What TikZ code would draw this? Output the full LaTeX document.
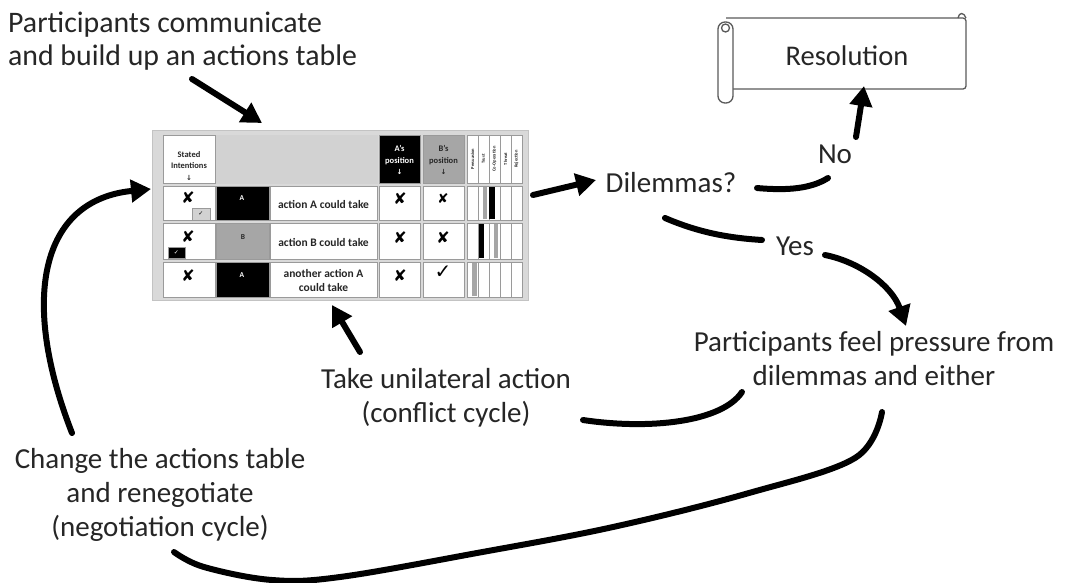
\documentclass[tikz,border=0pt]{standalone}
\usepackage{fontspec}
\setmainfont{Carlito}
\newfontfamily\symfont{DejaVu Sans}
\usetikzlibrary{arrows.meta}
\definecolor{ink}{HTML}{262626}
\definecolor{framegray}{HTML}{D9D9D9}
\definecolor{headgray}{HTML}{D2D2D2}
\definecolor{bgray}{HTML}{A6A6A6}
\definecolor{linegray}{HTML}{9A9A9A}
\definecolor{scrollgray}{HTML}{5A5A5A}
\tikzset{
  lbl/.style={inner sep=0pt, text=ink, font=\fontsize{29}{34}\selectfont, align=center},
  conn/.style={draw=black, line width=6pt, line cap=round},
  arr/.style={conn, -{Triangle[length=20pt,width=22pt]}},
  cellb/.style={draw=linegray, line width=0.8pt},
  tiny/.style={inner sep=0pt, font=\fontsize{8.5}{11.5}\selectfont\bfseries, align=center},
  acttxt/.style={inner sep=0pt, text=ink, font=\fontsize{11.5}{14}\selectfont\bfseries, align=center},
  vlab/.style={inner sep=0pt, rotate=90, text=ink, font=\fontsize{4.5}{5}\selectfont\bfseries},
  symb/.style={inner sep=0pt, text=black, font=\symfont\fontsize{16}{16}\selectfont},
}
\begin{document}
\begin{tikzpicture}[x=1pt,y=-1pt]
\useasboundingbox[fill=white] (0,0) rectangle (1066,582);

% ---------------- texts (base = baseline of last line) ----------------
\node[lbl, align=left, anchor=base west, font=\fontsize{29.8}{33}\selectfont] (build) at (8,65) {Participants communicate\\and build up an actions table};
\node[lbl, anchor=base] (dil) at (671,192) {Dilemmas?};
\node[lbl, anchor=base] (no) at (835,163) {No};
\node[lbl, anchor=base] (yes) at (795,255) {Yes};
\node[lbl, anchor=base] (press) at (874,385) {Participants feel pressure from\\dilemmas and either};
\node[lbl, anchor=base] (uni) at (446,422) {Take unilateral action\\(conflict cycle)};
\node[lbl, anchor=base] (change) at (160,536) {Change the actions table\\and renegotiate\\(negotiation cycle)};

% ---------------- resolution scroll ----------------
\begin{scope}[draw=scrollgray, line width=1.3pt]
  \draw[fill=white, rounded corners=3pt] (726,18) -- (966,18) -- (966,89) -- (730,89);
  \draw[fill=white, rounded corners=7pt] (718,22) rectangle (733,103);
  \draw (725.5,28) circle (4pt);
  \draw (958,18) .. controls (959,12) and (964,12) .. (966,18);
\end{scope}
\node[lbl, font=\fontsize{28.5}{34}\selectfont, anchor=base] (res) at (847,65) {Resolution};

% ---------------- actions table ----------------
\node[fill=framegray, draw=framegray!90!black, minimum width=376pt, minimum height=170pt, inner sep=0pt] (table) at (340,215) {};
% header
\draw[cellb, fill=white] (163,135) rectangle (215,183);
\draw[draw=headgray, fill=headgray] (216,135) rectangle (377,183);
\draw[cellb, fill=black] (379,135) rectangle (420,183);
\draw[cellb, fill=bgray] (423,135) rectangle (464,183);
\foreach \x in {467,478,489,500,511}{
  \draw[cellb, fill=white] (\x,135) rectangle (\x+11,183);
  \draw[cellb, fill=white] (\x,186) rectangle (\x+11,220);
  \draw[cellb, fill=white] (\x,223) rectangle (\x+11,259);
  \draw[cellb, fill=white] (\x,262) rectangle (\x+11,297);
}
\node[tiny, text=ink] (si) at (189,166) {Stated\\Intentions\\{\symfont\fontsize{7}{8}\selectfont ↓}};
\node[tiny, text=white] (ap) at (399.5,160) {A's\\position\\{\symfont\fontsize{7}{8}\selectfont ↓}};
\node[tiny, text=ink] (bp) at (443.5,160) {B's\\position\\{\symfont\fontsize{7}{8}\selectfont ↓}};
\node[vlab] (v1) at (472.5,159) {Persuasion};
\node[vlab] (v2) at (483.5,159) {Trust};
\node[vlab] (v3) at (494.5,159) {Co-Operation};
\node[vlab] (v4) at (505.5,159) {Threat};
\node[vlab] (v5) at (516.5,159) {Rejection};
% rows
\foreach \ya/\yb in {186/220,223/259,262/297}{
  \draw[cellb, fill=white] (163,\ya) rectangle (215,\yb);
  \draw[cellb, fill=white] (270,\ya) rectangle (377,\yb);
  \draw[cellb, fill=white] (379,\ya) rectangle (420,\yb);
  \draw[cellb, fill=white] (423,\ya) rectangle (464,\yb);
}
\draw[cellb, fill=black] (216,186) rectangle (269,220);
\draw[cellb, fill=bgray] (216,223) rectangle (269,259);
\draw[cellb, fill=black] (216,262) rectangle (269,297);
\node[tiny, text=white, font=\fontsize{7.5}{8}\selectfont\bfseries] (ra) at (242,198) {A};
\node[tiny, text=ink, font=\fontsize{7.5}{8}\selectfont\bfseries] (rb) at (243,237) {B};
\node[tiny, text=white, font=\fontsize{7.5}{8}\selectfont\bfseries] (rc) at (242,275) {A};
\node[acttxt] (t1) at (323.5,204) {action A could take};
\node[acttxt] (t2) at (323.5,242) {action B could take};
\node[acttxt] (t3) at (323.5,280) {another action A\\could take};
% marks
\node[symb] (x11) at (188,198) {✘};
\node[symb] (x14) at (400,199) {✘};
\node[symb, font=\symfont\fontsize{13.5}{13.5}\selectfont] (x15) at (443,199) {✘};
\node[symb] (x21) at (188,237) {✘};
\node[symb] (x24) at (400,238) {✘};
\node[symb] (x25) at (443,238) {✘};
\node[symb] (x31) at (188,276) {✘};
\node[symb] (x34) at (400,276) {✘};
\node[symb, font=\symfont\bfseries\fontsize{20}{20}\selectfont] (c35) at (443,272) {✓};
% small check boxes
\draw[draw=linegray, fill=headgray, line width=0.8pt] (192,208) rectangle (210,220);
\node[symb, font=\symfont\fontsize{6}{6}\selectfont] (cb1) at (201,214) {✓};
\draw[draw=linegray, fill=black, line width=0.8pt] (168,247) rectangle (185,258);
\node[symb, text=white, font=\symfont\fontsize{6}{6}\selectfont] (cb2) at (176.5,252.5) {✓};
% indicator bars
\fill[bgray] (483,187) rectangle (487,219);
\fill[black] (489,187) rectangle (494.5,219);
\fill[black] (479,224) rectangle (484,258);
\fill[bgray] (494,224) rectangle (497.5,258);
\fill[bgray] (472,263) rectangle (477,296);

% ---------------- connectors ----------------
\coordinate (buildEnd) at (192,79);
\coordinate (tableTop) at (262,123);
\coordinate (tableRight) at (533,195);
\coordinate (dilIn) at (596,180);
\coordinate (noStart) at (757,188);
\coordinate (noEnd) at (828,178);
\coordinate (noUp) at (856,137);
\coordinate (resIn) at (864,86);
\coordinate (yesStart) at (665,218);
\coordinate (yesEnd) at (762,240);
\coordinate (yesOut) at (825,255);
\coordinate (pressIn) at (906,326);
\coordinate (uniOut) at (360,352);
\coordinate (tableBottom) at (332,305);
\coordinate (confStart) at (583,420);
\coordinate (confEnd) at (742,392);
\coordinate (pressOut) at (882,412);
\coordinate (negEnd) at (174,552);
\coordinate (changeOut) at (72,433);
\coordinate (tableLeft) at (151,189);

\draw[arr] (buildEnd) -- (tableTop);
\draw[arr] (tableRight) -- (dilIn);
\draw[conn] (noStart) .. controls (790,191) and (812,188) .. (noEnd);
\draw[arr] (noUp) -- (resIn);
\draw[conn] (yesStart) .. controls (700,233) and (730,238) .. (yesEnd);
\draw[arr] (yesOut) .. controls (860,262) and (892,286) .. (pressIn);
\draw[arr] (uniOut) -- (tableBottom);
\draw[conn] (confStart) .. controls (650,430) and (722,422) .. (confEnd);
\draw[conn] plot[smooth, tension=0.6] coordinates {(pressOut) (855,458) (749,493) (613,527) (477,553) (340,577) (272,580) (204,567) (negEnd)};
\draw[arr] (changeOut) .. controls (20,300) and (40,200) .. (tableLeft);
\end{tikzpicture}
\end{document}
